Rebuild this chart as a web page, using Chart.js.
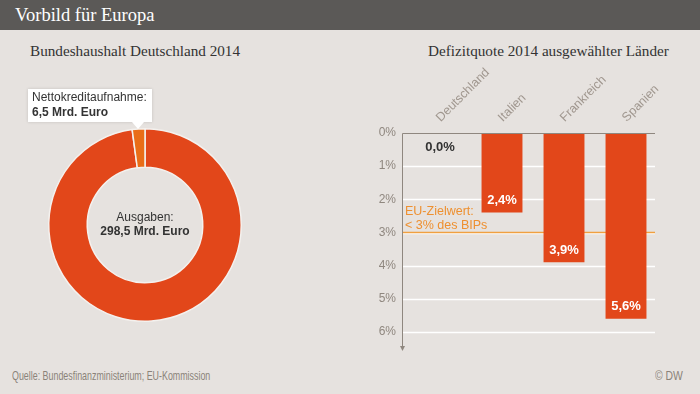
<!DOCTYPE html>
<html>
<head>
<meta charset="utf-8">
<script src="https://cdn.jsdelivr.net/npm/chart.js@4"></script>
<style>
  body { margin: 0; background: #e6e2df; }
  #wrap { position: relative; width: 700px; height: 394px; background: #e6e2df; overflow: hidden; font-family: "Liberation Sans", Arial, sans-serif; }
  #titlebar { position: absolute; left: 0; top: 0; width: 700px; height: 30px; background: #5b5957; }
  #titlebar span { position: absolute; left: 15px; top: 5px; color: #fff; font: 18.5px "Liberation Serif", serif; }
  .sub { position: absolute; top: 42px; color: #333; font: 15.2px "Liberation Serif", serif; white-space: nowrap; }
  .foot { position: absolute; top: 368px; color: #8a8279; font: 13px "Liberation Sans", Arial, sans-serif; white-space: nowrap; transform-origin: 0 0; }
  #pie { position: absolute; left: 39px; top: 119px; width: 212px; height: 212px; }
  #bars { position: absolute; left: 350px; top: 60px; width: 350px; height: 300px; }
  #callout { position: absolute; left: 28px; top: 89px; width: 116px; height: 31px; background: #fff; padding: 1px 4px; color: #333; font-size: 12px; line-height: 15px; box-shadow: 0 0 3px rgba(0,0,0,0.15); }
  #callout:after { content: ""; position: absolute; left: 104px; top: 33px; border-left: 6px solid transparent; border-right: 6px solid transparent; border-top: 7px solid #fff; }
</style>
</head>
<body>
<div id="wrap">
  <div id="titlebar"><span>Vorbild für Europa</span></div>
  <div class="sub" style="left:30px">Bundeshaushalt Deutschland 2014</div>
  <div class="sub" style="left:428px">Defizitquote 2014 ausgewählter Länder</div>
  <div id="pie"><canvas id="pieChart"></canvas></div>
  <div id="bars"><canvas id="barChart"></canvas></div>
  <div id="callout">Nettokreditaufnahme:<br><b>6,5 Mrd. Euro</b></div>
  <div class="foot" id="quelle" style="left:12px">Quelle: Bundesfinanzministerium; EU-Kommission</div>
  <div class="foot" id="dw" style="left:655px">© DW</div>
</div>
<script>
// Bundeshaushalt 2014 (Mrd. Euro)
var haushaltLabels = ['Ausgaben', 'Nettokreditaufnahme'];
var haushaltWerte = [298.5, 6.5];

// Defizitquote 2014 in % des BIP
var laender = ['Deutschland', 'Italien', 'Frankreich', 'Spanien'];
var defizit = [0.0, 2.4, 3.9, 5.6];
var yTicks = [0, 1, 2, 3, 4, 5, 6];
var euZiel = 3;

var rot = '#e2471a';
var grau = '#8f877f';

function fmt(v) {
    return v.toFixed(1).replace('.', ',') + '%';
}

// Fusszeile schmaler machen (schmale Schrift wie im Original)
function quetschen(id, breite) {
    var el = document.getElementById(id);
    el.style.transform = 'scaleX(' + (breite / el.offsetWidth) + ')';
}
quetschen('quelle', 198);
quetschen('dw', 28);

// Text in der Mitte des Donuts
var mitteText = {
    id: 'mitteText',
    afterDraw: function(chart) {
        var ctx = chart.ctx;
        var a = chart.chartArea;
        var cx = (a.left + a.right) / 2, cy = (a.top + a.bottom) / 2;
        ctx.save();
        ctx.fillStyle = '#333';
        ctx.textAlign = 'center';
        ctx.textBaseline = 'middle';
        ctx.font = '12px "Liberation Sans", Arial';
        ctx.fillText('Ausgaben:', cx, cy - 7);
        ctx.font = 'bold 12px "Liberation Sans", Arial';
        ctx.fillText('298,5 Mrd. Euro', cx, cy + 7);
        ctx.restore();
    }
};

new Chart(document.getElementById('pieChart'), {
    type: 'doughnut',
    data: {
        labels: haushaltLabels,
        datasets: [{
            data: haushaltWerte,
            backgroundColor: [rot, '#e96d18'],
            borderColor: '#f4f1ee',
            borderWidth: 1.5
        }]
    },
    options: {
        responsive: true,
        maintainAspectRatio: false,
        animation: false,
        cutout: '60%',
        layout: { padding: 9 },
        plugins: { legend: { display: false }, tooltip: { enabled: false } }
    },
    plugins: [mitteText]
});

// Achsen, Gitter, EU-Linie und Werte an den Balken
var achseLinks = 52;   // x der y-Achse im Canvas
var achseRechts = 305; // Ende der Gitterlinien

var balkenExtras = {
    id: 'balkenExtras',
    beforeDatasetsDraw: function(chart) {
        var ctx = chart.ctx;
        var ys = chart.scales.y;
        ctx.save();
        // weisse Gitterlinien
        ctx.strokeStyle = '#ffffff';
        ctx.lineWidth = 1.5;
        yTicks.forEach(function(v) {
            if (v === 0) return;
            var y = Math.round(ys.getPixelForValue(v)) + 0.5;
            ctx.beginPath();
            ctx.moveTo(achseLinks, y);
            ctx.lineTo(achseRechts, y);
            ctx.stroke();
        });
        // EU-Zielwert
        var ye = ys.getPixelForValue(euZiel);
        ctx.strokeStyle = '#f0a040';
        ctx.lineWidth = 1.5;
        ctx.beginPath();
        ctx.moveTo(achseLinks, ye);
        ctx.lineTo(achseRechts, ye);
        ctx.stroke();
        ctx.fillStyle = '#ee9030';
        ctx.font = '12.5px "Liberation Sans", Arial';
        ctx.textBaseline = 'alphabetic';
        ctx.fillText('EU-Zielwert:', achseLinks + 3, ye - 18);
        ctx.fillText('< 3% des BIPs', achseLinks + 3, ye - 4);
        ctx.restore();
    },
    afterDatasetsDraw: function(chart) {
        var ctx = chart.ctx;
        var a = chart.chartArea;
        var meta = chart.getDatasetMeta(0);
        ctx.save();
        // obere Achse und y-Achse mit Pfeil
        ctx.strokeStyle = grau;
        ctx.lineWidth = 1;
        ctx.beginPath();
        ctx.moveTo(achseRechts, a.top + 0.5);
        ctx.lineTo(achseLinks + 0.5, a.top + 0.5);
        ctx.lineTo(achseLinks + 0.5, a.bottom + 16);
        ctx.stroke();
        ctx.fillStyle = grau;
        ctx.beginPath();
        ctx.moveTo(achseLinks - 2, a.bottom + 14);
        ctx.lineTo(achseLinks + 3, a.bottom + 14);
        ctx.lineTo(achseLinks + 0.5, a.bottom + 19);
        ctx.fill();
        // Werte
        ctx.textAlign = 'center';
        ctx.textBaseline = 'middle';
        ctx.font = 'bold 13px "Liberation Sans", Arial';
        meta.data.forEach(function(bar, i) {
            var v = defizit[i];
            if (v === 0) {
                ctx.fillStyle = '#333';
                ctx.fillText(fmt(v), bar.x, bar.base + 14);
            } else {
                ctx.fillStyle = '#fff';
                ctx.fillText(fmt(v), bar.x, bar.y - 12);
            }
        });
        ctx.restore();
    }
};

new Chart(document.getElementById('barChart'), {
    type: 'bar',
    data: {
        labels: laender,
        datasets: [{
            data: defizit,
            backgroundColor: rot,
            barPercentage: 0.66,
            categoryPercentage: 1
        }]
    },
    options: {
        responsive: true,
        maintainAspectRatio: false,
        animation: false,
        layout: { padding: { left: 0, right: 43, top: 0, bottom: 28 } },
        plugins: { legend: { display: false }, tooltip: { enabled: false } },
        scales: {
            x: {
                position: 'top',
                grid: { display: false, drawTicks: false },
                border: { display: false },
                ticks: {
                    minRotation: 45,
                    maxRotation: 45,
                    padding: 8,
                    labelOffset: 9,
                    color: '#a0978f',
                    font: { size: 12.5, family: '"Liberation Sans", Arial' }
                },
                afterFit: function(s) { s.height = 73; }
            },
            y: {
                reverse: true,
                min: 0,
                max: 6,
                afterBuildTicks: function(s) {
                    s.ticks = yTicks.map(function(v) { return { value: v }; });
                },
                grid: { display: false, drawTicks: false },
                border: { display: false },
                ticks: {
                    padding: 13,
                    color: grau,
                    font: { size: 12, family: '"Liberation Sans", Arial' },
                    callback: function(v) { return v + '%'; }
                },
                afterFit: function(s) { s.width = 59; }
            }
        }
    },
    plugins: [balkenExtras]
});
</script>
</body>
</html>
